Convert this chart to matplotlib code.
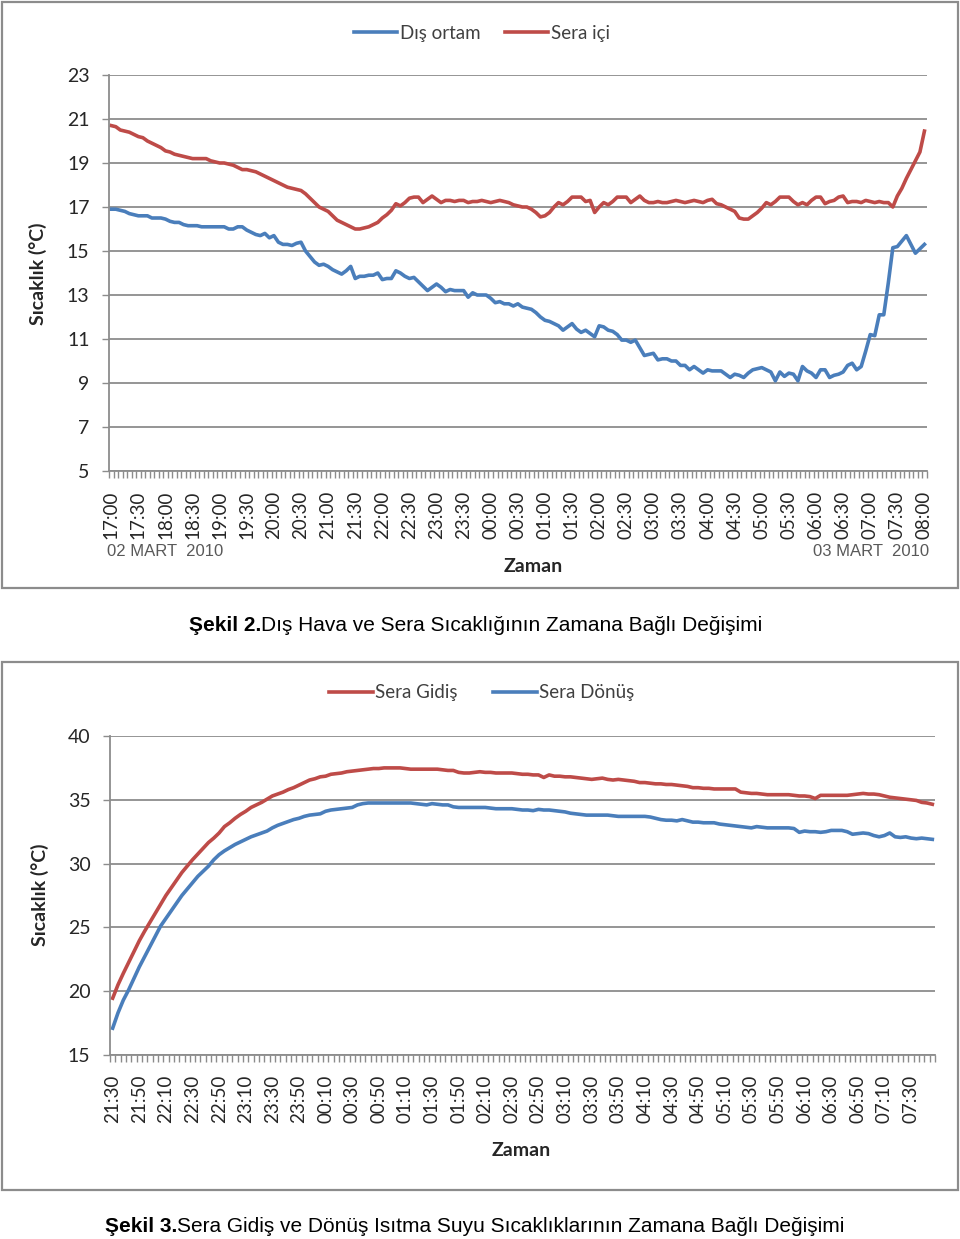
import numpy as np
import matplotlib
matplotlib.use("Agg")
import matplotlib.pyplot as plt
from matplotlib.patches import Rectangle

W, H = 960, 1239

# Şekil 2 - 5 dakikalik olcumler (17:00 - 08:00)
dis_ortam = [
    16.9, 16.9, 16.85, 16.8, 16.7, 16.65, 16.6, 16.6, 16.6, 16.5,
    16.5, 16.5, 16.45, 16.35, 16.3, 16.3, 16.2, 16.15, 16.15, 16.15,
    16.1, 16.1, 16.1, 16.1, 16.1, 16.1, 16.0, 16.0, 16.1, 16.1,
    15.95, 15.85, 15.75, 15.7, 15.8, 15.6, 15.7, 15.4, 15.3, 15.3,
    15.25, 15.35, 15.4, 15.0, 14.75, 14.5, 14.35, 14.4, 14.3, 14.15,
    14.05, 13.95, 14.1, 14.3, 13.75, 13.85, 13.85, 13.9, 13.9, 14.0,
    13.7, 13.75, 13.75, 14.1, 14.0, 13.85, 13.75, 13.8, 13.6, 13.4,
    13.2, 13.35, 13.5, 13.35, 13.15, 13.25, 13.2, 13.2, 13.2, 12.9,
    13.1, 13.0, 13.0, 13.0, 12.85, 12.65, 12.7, 12.6, 12.6, 12.5,
    12.6, 12.45, 12.4, 12.35, 12.2, 12.0, 11.85, 11.8, 11.7, 11.6,
    11.4, 11.55, 11.7, 11.45, 11.3, 11.4, 11.25, 11.1, 11.6, 11.55,
    11.4, 11.35, 11.2, 10.95, 10.95, 10.85, 10.95, 10.6, 10.25, 10.3,
    10.35, 10.05, 10.1, 10.1, 10.0, 10.0, 9.8, 9.8, 9.6, 9.75,
    9.6, 9.45, 9.6, 9.55, 9.55, 9.55, 9.4, 9.25, 9.4, 9.35,
    9.25, 9.45, 9.6, 9.65, 9.7, 9.6, 9.5, 9.1, 9.5, 9.3,
    9.45, 9.4, 9.1, 9.75, 9.55, 9.45, 9.25, 9.6, 9.6, 9.25,
    9.35, 9.4, 9.5, 9.8, 9.9, 9.6, 9.75, 10.45, 11.2, 11.15,
    12.1, 12.1, 13.55, 15.15, 15.2, 15.45, 15.7, 15.3, 14.9, 15.1, 15.3,
]
sera_ici = [
    20.7, 20.65, 20.5, 20.45, 20.4, 20.3, 20.2, 20.15, 20.0, 19.9,
    19.8, 19.7, 19.55, 19.5, 19.4, 19.35, 19.3, 19.25, 19.2, 19.2,
    19.2, 19.2, 19.1, 19.05, 19.0, 19.0, 18.95, 18.9, 18.8, 18.7,
    18.7, 18.65, 18.6, 18.5, 18.4, 18.3, 18.2, 18.1, 18.0, 17.9,
    17.85, 17.8, 17.75, 17.6, 17.4, 17.2, 17.0, 16.9, 16.8, 16.6,
    16.4, 16.3, 16.2, 16.1, 16.0, 16.0, 16.05, 16.1, 16.2, 16.3,
    16.5, 16.65, 16.85, 17.15, 17.05, 17.2, 17.4, 17.45, 17.45, 17.2,
    17.35, 17.5, 17.35, 17.2, 17.3, 17.3, 17.25, 17.3, 17.3, 17.2,
    17.25, 17.25, 17.3, 17.25, 17.2, 17.25, 17.3, 17.25, 17.2, 17.1,
    17.05, 17.0, 17.0, 16.9, 16.75, 16.55, 16.6, 16.75, 17.0, 17.2,
    17.1, 17.25, 17.45, 17.45, 17.45, 17.25, 17.3, 16.75, 17.0, 17.2,
    17.1, 17.25, 17.45, 17.45, 17.45, 17.2, 17.35, 17.5, 17.3, 17.2,
    17.2, 17.25, 17.2, 17.2, 17.25, 17.3, 17.25, 17.2, 17.25, 17.3,
    17.25, 17.2, 17.3, 17.35, 17.15, 17.1, 17.0, 16.9, 16.8, 16.5,
    16.45, 16.45, 16.6, 16.75, 16.95, 17.2, 17.1, 17.25, 17.45, 17.45,
    17.45, 17.25, 17.1, 17.2, 17.1, 17.3, 17.45, 17.45, 17.15, 17.25,
    17.3, 17.45, 17.5, 17.2, 17.25, 17.25, 17.2, 17.3, 17.25, 17.2,
    17.25, 17.2, 17.2, 17.0, 17.5, 17.85, 18.3, 18.7, 19.1, 19.5, 20.45,
]
saat1 = ["17:00", "17:30", "18:00", "18:30", "19:00", "19:30", "20:00", "20:30",
         "21:00", "21:30", "22:00", "22:30", "23:00", "23:30", "00:00", "00:30",
         "01:00", "01:30", "02:00", "02:30", "03:00", "03:30", "04:00", "04:30",
         "05:00", "05:30", "06:00", "06:30", "07:00", "07:30", "08:00"]

# Şekil 3 - isitma suyu gidis / donus
sera_gidis = [
    19.45, 20.5, 21.4, 22.25, 23.1, 23.95, 24.7, 25.4, 26.1, 26.8,
    27.5, 28.1, 28.7, 29.3, 29.8, 30.3, 30.75, 31.2, 31.65, 32.0,
    32.4, 32.9, 33.2, 33.55, 33.85, 34.1, 34.4, 34.6, 34.8, 35.05,
    35.3, 35.45, 35.6, 35.8, 35.95, 36.15, 36.35, 36.55, 36.65, 36.8,
    36.85, 37.0, 37.05, 37.1, 37.2, 37.25, 37.3, 37.35, 37.4, 37.45,
    37.45, 37.5, 37.5, 37.5, 37.5, 37.45, 37.4, 37.4, 37.4, 37.4,
    37.4, 37.4, 37.35, 37.3, 37.3, 37.15, 37.1, 37.1, 37.15, 37.2,
    37.15, 37.15, 37.1, 37.1, 37.1, 37.1, 37.05, 37.0, 37.0, 36.95,
    36.95, 36.75, 36.95, 36.85, 36.85, 36.8, 36.8, 36.75, 36.7, 36.65,
    36.6, 36.65, 36.7, 36.6, 36.55, 36.6, 36.55, 36.5, 36.45, 36.35,
    36.35, 36.3, 36.25, 36.25, 36.2, 36.2, 36.15, 36.1, 36.05, 35.95,
    35.95, 35.9, 35.9, 35.85, 35.85, 35.85, 35.85, 35.85, 35.6, 35.55,
    35.5, 35.5, 35.45, 35.4, 35.4, 35.4, 35.4, 35.4, 35.35, 35.3,
    35.3, 35.25, 35.1, 35.35, 35.35, 35.35, 35.35, 35.35, 35.35, 35.4,
    35.45, 35.5, 35.45, 35.45, 35.4, 35.3, 35.2, 35.15, 35.1, 35.05,
    35.0, 34.95, 34.8, 34.75, 34.65,
]
sera_donus = [
    17.1, 18.3, 19.3, 20.1, 21.0, 21.9, 22.7, 23.5, 24.3, 25.1,
    25.7, 26.3, 26.9, 27.5, 28.0, 28.5, 29.0, 29.4, 29.8, 30.3,
    30.7, 31.0, 31.25, 31.5, 31.7, 31.9, 32.1, 32.25, 32.4, 32.55,
    32.8, 33.0, 33.15, 33.3, 33.45, 33.55, 33.7, 33.8, 33.85, 33.9,
    34.1, 34.2, 34.25, 34.3, 34.35, 34.4, 34.6, 34.7, 34.75, 34.75,
    34.75, 34.75, 34.75, 34.75, 34.75, 34.75, 34.75, 34.7, 34.65, 34.6,
    34.7, 34.65, 34.6, 34.6, 34.45, 34.4, 34.4, 34.4, 34.4, 34.4,
    34.4, 34.35, 34.3, 34.3, 34.3, 34.3, 34.25, 34.2, 34.2, 34.15,
    34.25, 34.2, 34.2, 34.15, 34.1, 34.05, 33.95, 33.9, 33.85, 33.8,
    33.8, 33.8, 33.8, 33.8, 33.75, 33.7, 33.7, 33.7, 33.7, 33.7,
    33.7, 33.65, 33.55, 33.45, 33.4, 33.4, 33.35, 33.45, 33.35, 33.25,
    33.25, 33.2, 33.2, 33.2, 33.1, 33.05, 33.0, 32.95, 32.9, 32.85,
    32.8, 32.9, 32.85, 32.8, 32.8, 32.8, 32.8, 32.8, 32.75, 32.45,
    32.55, 32.5, 32.5, 32.45, 32.5, 32.6, 32.6, 32.6, 32.5, 32.3,
    32.35, 32.4, 32.35, 32.2, 32.1, 32.2, 32.4, 32.1, 32.05, 32.1,
    32.0, 31.95, 32.0, 31.95, 31.9,
]
saat2 = ["21:30", "21:50", "22:10", "22:30", "22:50", "23:10", "23:30", "23:50",
         "00:10", "00:30", "00:50", "01:10", "01:30", "01:50", "02:10", "02:30",
         "02:50", "03:10", "03:30", "03:50", "04:10", "04:30", "04:50", "05:10",
         "05:30", "05:50", "06:10", "06:30", "06:50", "07:10", "07:30"]

MAVI = "#4a7ebb"
KIRMIZI = "#be4b48"
GRI = "#8c8c8c"
YAZI = "#404040"

plt.rcParams['font.family'] = ['Lato', 'DejaVu Sans']


def fx(px):
    return px / W


def fy(py):
    return 1 - py / H


def stil(ax, n, adim, etiketler, ylim, ystep):
    ax.set_xlim(-0.5, n - 0.5)
    ax.set_ylim(*ylim)
    ax.set_yticks(np.arange(ylim[0], ylim[1] + 0.01, ystep))
    ax.grid(axis='y', color=GRI, lw=1.3)
    ax.set_axisbelow(True)
    for s in ['top', 'right']:
        ax.spines[s].set_visible(False)
    for s in ['left', 'bottom']:
        ax.spines[s].set_color(GRI)
        ax.spines[s].set_linewidth(1.3)
    ax.set_xticks(np.arange(-0.5, n, 1))
    ax.tick_params(axis='x', which='major', length=5, width=1, color=GRI,
                   labelbottom=False)
    ax.set_xticks(np.arange(0, n, adim)[:len(etiketler)], etiketler, minor=True)
    ax.tick_params(axis='x', which='minor', length=0, pad=14, labelsize=13.5,
                   labelrotation=90, labelcolor='#262626')
    ax.tick_params(axis='y', length=5, width=1, color=GRI, pad=9,
                   labelsize=14, labelcolor='#262626')


fig = plt.figure(figsize=(W / 100, H / 100), dpi=100)

# cerceveler
fig.patches.append(Rectangle((fx(2), fy(588)), 956 / W, 586 / H, transform=fig.transFigure,
                             fill=False, ec=GRI, lw=1.6))
fig.patches.append(Rectangle((fx(2), fy(1190)), 956 / W, 528 / H, transform=fig.transFigure,
                             fill=False, ec=GRI, lw=1.6))

# --- Şekil 2 ---
ax1 = fig.add_axes([fx(109), fy(471), (926.7 - 109) / W, (471 - 75) / H])
x1 = np.arange(len(dis_ortam))
l1, = ax1.plot(x1, dis_ortam, color=MAVI, lw=2.6, label="Dış ortam")
l2, = ax1.plot(x1, sera_ici, color=KIRMIZI, lw=2.6, label="Sera içi")
stil(ax1, len(dis_ortam), 6, saat1, (5, 23), 2)
ax1.legend(handles=[l1, l2], loc='center', bbox_to_anchor=(fx(482), fy(33)),
           bbox_transform=fig.transFigure, ncol=2, frameon=False, fontsize=13.5,
           handlelength=2.3, handletextpad=0.15, columnspacing=1.3, borderpad=0,
           labelcolor=YAZI)
fig.text(fx(38), fy(274), "Sıcaklık (°C)", rotation=90, ha='center', va='center',
         fontsize=14, fontweight='bold', color='#262626')
fig.text(fx(533), fy(566), "Zaman", ha='center', va='center', fontsize=14,
         fontweight='bold', color='#262626')
fig.text(fx(107), fy(551), "02 MART  2010", ha='left', va='center', fontsize=12,
         color='#595959', family=['Liberation Sans', 'DejaVu Sans'])
fig.text(fx(929), fy(551), "03 MART  2010", ha='right', va='center', fontsize=12,
         color='#595959', family=['Liberation Sans', 'DejaVu Sans'])

# --- Şekil 3 ---
ax2 = fig.add_axes([fx(110), fy(1055), (935 - 110) / W, (1055 - 736) / H])
x2 = np.arange(len(sera_gidis))
l3, = ax2.plot(x2, sera_gidis, color=KIRMIZI, lw=2.6, label="Sera Gidiş")
l4, = ax2.plot(x2, sera_donus, color=MAVI, lw=2.6, label="Sera Dönüş")
stil(ax2, len(sera_gidis), 5, saat2, (15, 40), 5)
ax2.legend(handles=[l3, l4], loc='center', bbox_to_anchor=(fx(482), fy(693)),
           bbox_transform=fig.transFigure, ncol=2, frameon=False, fontsize=13.5,
           handlelength=2.3, handletextpad=0.15, columnspacing=1.9, borderpad=0,
           labelcolor=YAZI)
fig.text(fx(40), fy(895), "Sıcaklık (°C)", rotation=90, ha='center', va='center',
         fontsize=14, fontweight='bold', color='#262626')
fig.text(fx(521), fy(1151), "Zaman", ha='center', va='center', fontsize=14,
         fontweight='bold', color='#262626')

# altyazilar
arial = ['Liberation Sans', 'DejaVu Sans']
t1 = fig.text(fx(189), fy(625), "Şekil 2.", ha='left', va='center', fontsize=15,
              fontweight='bold', family=arial)
plt.annotate("Dış Hava ve Sera Sıcaklığının Zamana Bağlı Değişimi", xy=(1, 0.5), xycoords=t1,
             ha='left', va='center', fontsize=15, family=arial)
t2 = fig.text(fx(105), fy(1226), "Şekil 3.", ha='left', va='center', fontsize=15,
              fontweight='bold', family=arial)
plt.annotate("Sera Gidiş ve Dönüş Isıtma Suyu Sıcaklıklarının Zamana Bağlı Değişimi",
             xy=(1, 0.5), xycoords=t2, ha='left', va='center', fontsize=15, family=arial)

fig.savefig("out.png", dpi=100)
